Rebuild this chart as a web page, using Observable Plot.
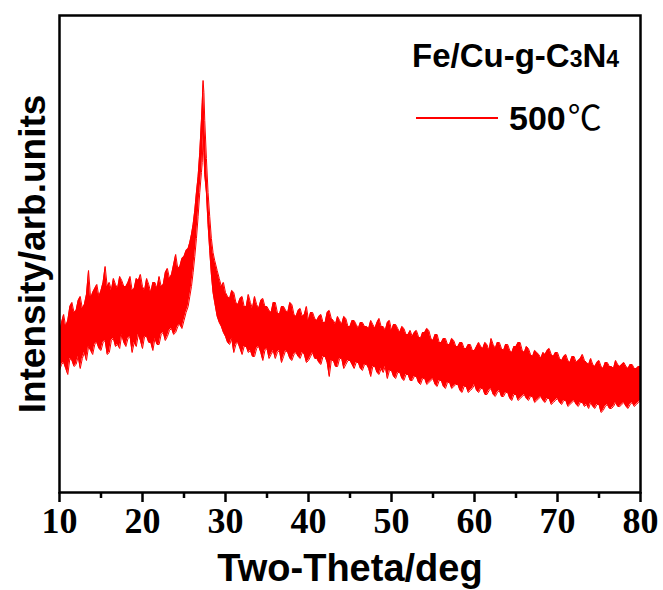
<!DOCTYPE html>
<html><head><meta charset="utf-8">
<script src="https://cdn.jsdelivr.net/npm/d3@7"></script>
<script src="https://cdn.jsdelivr.net/npm/@observablehq/plot@0.6"></script>
<style>body{margin:0;background:#fff}</style>
</head><body><div id="chart"></div>
<script>
// Two-theta sampling (deg)
const theta = [
 10,10.25,10.5,10.75, 11,11.25,11.5,11.75, 12,12.25,12.5,12.75, 13,13.25,13.5,13.75, 14,14.25,14.5,14.75,
 15,15.25,15.5,15.75, 16,16.25,16.5,16.75, 17,17.25,17.5,17.75, 18,18.25,18.5,18.75, 19,19.25,19.5,19.75,
 20,20.25,20.5,20.75, 21,21.25,21.5,21.75, 22,22.25,22.5,22.75, 23,23.25,23.5,23.75, 24,24.25,24.5,24.75,
 25,25.25,25.5,
 25.7,25.9,26.1,26.3,26.5,26.7,26.9,27.1,27.2,27.3,27.4,27.5,27.7,27.9,28.1,28.3,28.5,28.7,
 29,29.25,29.5,29.75, 30,30.25,30.5,30.75, 31,31.25,31.5,31.75, 32,32.25,32.5,32.75, 33,33.25,33.5,33.75,
 34,34.25,34.5,34.75, 35,35.25,35.5,35.75, 36,36.25,36.5,36.75, 37,37.25,37.5,37.75, 38,38.25,38.5,38.75,
 39,39.25,39.5,39.75, 40,40.25,40.5,40.75, 41,41.25,41.5,41.75, 42,42.25,42.5,42.75, 43,43.25,43.5,43.75,
 44,44.25,44.5,44.75, 45,45.25,45.5,45.75, 46,46.25,46.5,46.75, 47,47.25,47.5,47.75, 48,48.25,48.5,48.75,
 49,49.25,49.5,49.75, 50,50.25,50.5,50.75, 51,51.25,51.5,51.75, 52,52.25,52.5,52.75, 53,53.25,53.5,53.75,
 54,54.25,54.5,54.75, 55,55.25,55.5,55.75, 56,56.25,56.5,56.75, 57,57.25,57.5,57.75, 58,58.25,58.5,58.75,
 59,59.25,59.5,59.75, 60,60.25,60.5,60.75, 61,61.25,61.5,61.75, 62,62.25,62.5,62.75, 63,63.25,63.5,63.75,
 64,64.25,64.5,64.75, 65,65.25,65.5,65.75, 66,66.25,66.5,66.75, 67,67.25,67.5,67.75, 68,68.25,68.5,68.75,
 69,69.25,69.5,69.75, 70,70.25,70.5,70.75, 71,71.25,71.5,71.75, 72,72.25,72.5,72.75, 73,73.25,73.5,73.75,
 74,74.25,74.5,74.75, 75,75.25,75.5,75.75, 76,76.25,76.5,76.75, 77,77.25,77.5,77.75, 78,78.25,78.5,78.75,
 79,79.25,79.5,79.75, 80
];
// Upper edge of the noisy trace (arb. units)
const upper = [
 160,170,178,166, 172,186,190,180, 182,192,196,184, 188,198,222,194, 200,204,208,196,
 202,210,226,206, 210,202,214,208, 204,216,212,206, 206,210,216,202, 204,214,212,218,
 206,202,214,208, 200,210,210,204, 216,206,208,220, 224,214,218,228, 238,224,226,234,
 236,242,244,
 250,258,268,282,300,316,340,372,390,412,400,372,334,300,276,254,240,232,
 222,214,206,210, 200,196,194,202, 200,190,188,194, 196,186,186,198, 190,184,196,188,
 184,192,194,186, 186,182,180,190, 190,180,178,186, 186,182,180,190, 188,178,176,182,
 184,176,178,186, 172,180,180,174, 172,176,178,170, 170,180,182,174, 172,168,176,172,
 168,176,174,166, 166,172,172,168, 164,170,170,166, 166,164,172,168, 164,170,174,166,
 166,162,170,172, 162,168,168,164, 160,166,164,158, 158,162,156,160, 162,156,154,160,
 160,164,162,154, 152,158,158,150, 150,154,154,148, 148,154,152,146, 146,150,150,144,
 144,148,148,142, 142,146,150,146, 144,150,148,142, 154,148,144,150, 150,144,142,148,
 148,142,140,146, 146,150,150,142, 140,146,144,138, 136,142,140,138, 134,140,138,142,
 144,138,136,140, 140,134,132,136, 138,132,130,136, 136,130,132,134, 138,132,130,128,
 134,128,126,130, 132,126,124,130, 130,126,126,124, 132,128,126,128, 130,126,124,128,
 128,124,124,126, 126
];
// Lower edge of the noisy trace (arb. units)
const lower = [
 122,128,130,124, 118,134,132,126, 128,136,124,134, 140,132,146,142, 138,148,150,144,
 142,150,152,138, 140,152,154,146, 148,144,158,150, 146,154,156,140, 150,146,158,152,
 144,156,156,150, 150,142,154,148, 148,158,160,152, 156,162,164,158, 160,166,168,164,
 172,180,186,
 196,206,220,236,254,276,300,320,330,360,340,318,300,268,242,218,200,190,
 176,170,166,160, 156,150,148,154, 140,148,150,144, 138,146,146,140, 142,136,136,144,
 146,140,132,142, 144,134,138,142, 134,140,142,130, 136,142,140,134, 132,138,140,136,
 134,140,138,130, 132,136,140,134, 134,130,128,136, 136,130,116,132, 132,126,126,134,
 134,124,128,132, 132,128,124,130, 130,124,122,128, 128,124,116,126, 126,120,118,124,
 120,126,114,122, 122,116,114,120, 120,114,112,118, 118,112,112,116, 116,110,108,114,
 114,108,110,112, 114,108,106,112, 112,106,104,110, 110,104,106,108, 108,102,100,106,
 106,100,102,104, 108,102,100,104, 104,98,98,102, 104,98,96,100, 102,96,96,100,
 100,94,92,98, 98,92,94,96, 98,94,92,96, 96,90,92,94, 96,92,90,94,
 94,88,90,92, 94,90,88,92, 92,86,88,90, 92,88,86,90, 90,86,88,84,
 90,86,84,88, 88,80,82,86, 88,84,84,86, 90,86,86,88, 90,86,84,88,
 90,86,88,90, 92
];
const majorTicks = [10,20,30,40,50,60,70,80];
const minorTicks = [15,25,35,45,55,65,75];
const xLabel = "Two-Theta/deg";
const yLabel = "Intensity/arb.units";
const seriesLabel = "500";

const data = theta.map((t,i)=>({t, hi: upper[i], lo: lower[i]}));
const red = "#ff0000";
const plot = Plot.plot({
  width:663, height:590, marginLeft:59, marginRight:23, marginTop:15, marginBottom:98,
  x:{domain:[10,80]}, y:{domain:[0,477], axis:null},
  marks:[
    Plot.areaY(data,{x:"t", y1:"lo", y2:"hi", fill:red}),
    Plot.line(data,{x:"t", y:"hi", stroke:red, strokeWidth:1}),
    Plot.line(data,{x:"t", y:"lo", stroke:red, strokeWidth:1}),
    Plot.frame({stroke:"black", strokeWidth:2.5}),
    Plot.axisX(minorTicks,{tickSize:6, strokeWidth:2.5, tickFormat:()=>"", label:null}),
    Plot.axisX(majorTicks,{tickSize:10, strokeWidth:2.5, tickPadding:5, label:null,
      fontSize:36, fontWeight:"bold", fontFamily:"Liberation Serif", fill:"black"}),
    Plot.text([xLabel],{text:d=>d, frameAnchor:"bottom", lineAnchor:"middle", dy:76, fontSize:38, fontWeight:"bold", fontFamily:"Liberation Sans", fill:"black"}),
    Plot.text([yLabel],{text:d=>d, frameAnchor:"left", textAnchor:"middle", dx:-26, rotate:-90, fontSize:37, fontWeight:"bold", fontFamily:"Liberation Sans", fill:"black"})
  ]
});
document.getElementById("chart").appendChild(plot);

// legend
const svg = d3.select(plot);
const lg = svg.append("g").attr("fill","black").attr("font-family","Liberation Sans").attr("font-weight","bold").attr("text-anchor","start");
const t1 = lg.append("text").attr("x",412).attr("y",67).attr("font-size",33);
t1.append("tspan").text("Fe/Cu-g-C");
t1.append("tspan").attr("font-size",23).text("3");
t1.append("tspan").text("N");
t1.append("tspan").attr("font-size",23).text("4");
lg.append("line").attr("x1",416).attr("x2",498).attr("y1",118).attr("y2",118).attr("stroke",red).attr("stroke-width",2);
const t2 = lg.append("text").attr("x",509).attr("y",130).attr("font-size",34);
t2.append("tspan").text(seriesLabel);
t2.append("tspan").attr("font-weight","normal").attr("font-family","Noto Sans CJK SC").attr("dx",2).text("℃");
</script></body></html>
